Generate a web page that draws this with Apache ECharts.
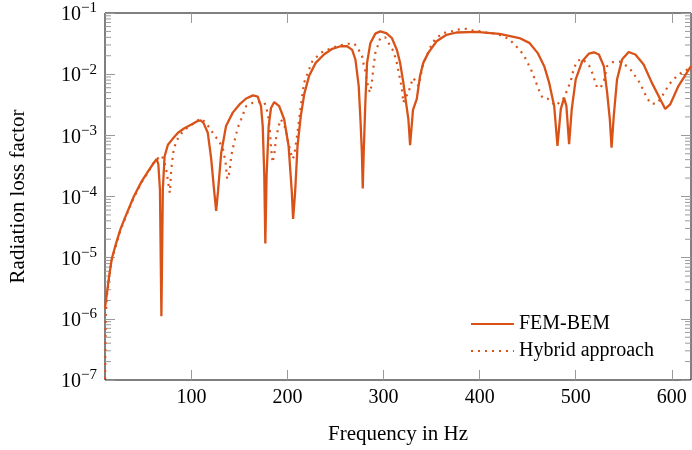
<!DOCTYPE html>
<html>
<head>
<meta charset="utf-8">
<script src="https://cdn.jsdelivr.net/npm/echarts@6/dist/echarts.min.js"></script>
<style>
html,body{margin:0;padding:0;background:#fff;}
#chart{width:692px;height:450px;}
</style>
</head>
<body>
<div id="chart"></div>
<script>
// ---- data ----
const femFreq = [10,12,14,17,21,26,32,40,48,55,60,63.8,65.5,67.2,68.7,70.2,72,75.5,80,86,93,100,106,109.5,112.5,117,120.5,123.5,125.7,127.6,131,136,143,150,157,164,169,172.4,174.2,175.8,176.9,178.2,180.4,182.8,186.2,191.3,196.5,201.1,204.5,205.8,207.9,210.4,213.8,217.5,222.4,229.3,237.9,246.6,255.2,262.1,267.3,270.7,274.1,275.9,277.4,278.3,279.3,281,282.8,286.2,291.4,296.5,302.8,308.6,313.8,317.2,320.6,323.4,325.8,327.6,330.6,334.5,337.9,341.3,346.5,355.2,365.5,375.9,396.6,420.7,441.4,451.7,460.3,467.2,472.4,477.6,481,484.5,487.9,490.3,493.1,495.9,500,506.8,513.8,518.9,524.1,529.3,532.7,535.5,537.3,539.6,543,548.2,555.1,562.1,570.7,579.3,588,593.2,598.3,606.9,620];
const femVal = [1.5e-6,2.6e-6,4.6e-6,9.5e-6,1.6e-5,2.9e-5,5.0e-5,1.0e-4,1.75e-4,2.6e-4,3.4e-4,4.1e-4,3.4e-4,1.3e-4,1.1e-6,1.3e-4,4.5e-4,7.0e-4,8.6e-4,1.1e-3,1.32e-3,1.5e-3,1.7e-3,1.76e-3,1.6e-3,1.1e-3,4.2e-4,1.3e-4,5.8e-5,1.2e-4,5.2e-4,1.42e-3,2.35e-3,3.2e-3,4.0e-3,4.5e-3,4.3e-3,3.0e-3,1.4e-3,2.2e-4,1.7e-5,2.2e-4,1.42e-3,2.8e-3,3.5e-3,3.0e-3,1.83e-3,6.7e-4,1.17e-4,4.3e-5,1.17e-4,6.7e-4,2.07e-3,4.8e-3,9.3e-3,1.53e-2,2.1e-2,2.6e-2,2.86e-2,2.86e-2,2.5e-2,1.73e-2,6.4e-3,1.83e-3,5.2e-4,1.35e-4,5.2e-4,3.4e-3,1.53e-2,3.2e-2,4.6e-2,5.0e-2,4.7e-2,3.9e-2,2.5e-2,1.53e-2,7.2e-3,3.4e-3,1.83e-3,6.9e-4,2.6e-3,3.9e-3,9.3e-3,1.53e-2,2.23e-2,3.45e-2,4.4e-2,4.8e-2,4.9e-2,4.55e-2,3.9e-2,3.25e-2,2.23e-2,1.35e-2,7.2e-3,3.0e-3,6.7e-4,2.7e-3,4.1e-3,3.0e-3,7.2e-4,2.7e-3,8.2e-3,1.63e-2,2.17e-2,2.28e-2,2.1e-2,1.35e-2,5.0e-3,1.83e-3,6.3e-4,2.07e-3,8.2e-3,1.73e-2,2.3e-2,2.1e-2,1.44e-2,7.2e-3,3.9e-3,2.7e-3,3.2e-3,6.4e-3,1.35e-2];

const hybFreq = [10,10.6,12,14,17,21,26,32,40,48,55,60.3,65,69,71.5,74,76,77.5,79,81,84,90,96,103,109.3,114.8,119.7,124.1,128.7,132.8,135.5,137.2,139.6,141.4,144.8,148.3,151.7,156.9,163.8,170.7,175.8,178.3,180.4,181.7,182.8,184.5,186.2,187.9,190.7,193.1,194.9,198.3,200,203.4,205.2,206.9,210.4,213.8,217.2,222.4,225.9,234.5,241.4,248.2,255.2,262.1,269.6,274.1,277.6,279.3,281,282.8,284.4,286.2,287.9,289.6,291.4,294.8,296.5,301.7,303.4,310.3,313.8,317.2,318.9,320.6,322.4,325.8,327.6,331,332.7,336.2,337.9,341.3,344.8,348.3,353.4,362,370.7,377.5,386.2,393.1,401.7,408.6,417.3,424.1,431,436.2,442.1,446.5,450,453.5,456.9,462.1,465.5,470.6,479.3,487.9,491.3,494.8,498.2,501.7,506.5,513.8,517.2,520,522.4,525.9,529.3,532.7,538.6,545.8,553.4,558.6,562.7,567.3,570.7,574.1,578.2,584.4,589,593.1,597.3,602.7,608.6,614.4,620];
const hybVal = [8e-8,1.0e-6,2.4e-6,4.2e-6,9e-6,1.5e-5,2.8e-5,4.8e-5,9.6e-5,1.7e-4,2.5e-4,3.5e-4,4.2e-4,4.7e-4,3.8e-4,2.6e-4,1.6e-4,1.15e-4,2.8e-4,5.2e-4,8e-4,1.1e-3,1.35e-3,1.6e-3,1.88e-3,1.62e-3,1.26e-3,9.8e-4,8.1e-4,6.0e-4,3.6e-4,1.93e-4,2.5e-4,4.6e-4,8.1e-4,1.34e-3,1.83e-3,3.0e-3,3.4e-3,3.5e-3,3.5e-3,2.7e-3,1.83e-3,1.18e-3,6.3e-4,3.6e-4,4.9e-4,8.6e-4,1.42e-3,1.83e-3,1.95e-3,1.26e-3,8.6e-4,5.2e-4,4.1e-4,4.6e-4,1.11e-3,3.0e-3,7.2e-3,1.19e-2,1.63e-2,2.23e-2,2.5e-2,2.75e-2,2.97e-2,3.13e-2,3.16e-2,2.5e-2,1.96e-2,1.44e-2,1.12e-2,7.7e-3,5.6e-3,5.0e-3,7.7e-3,1.35e-2,2.23e-2,3.2e-2,3.9e-2,4.0e-2,3.9e-2,2.37e-2,1.53e-2,8.2e-3,6.0e-3,3.4e-3,4.3e-3,4.7e-3,6.4e-3,8.7e-3,9.3e-3,6.4e-3,8.2e-3,1.53e-2,1.96e-2,2.7e-2,3.7e-2,4.7e-2,5.0e-2,5.35e-2,5.5e-2,5.15e-2,5.0e-2,4.7e-2,4.6e-2,4.2e-2,3.7e-2,3.05e-2,2.46e-2,1.96e-2,1.53e-2,1.19e-2,8.7e-3,5.3e-3,4.1e-3,4.0e-3,3.05e-3,4.1e-3,5.6e-3,7.7e-3,1.27e-2,1.63e-2,1.8e-2,1.39e-2,1.05e-2,7.7e-3,6.0e-3,6.0e-3,7.7e-3,1.35e-2,1.57e-2,1.6e-2,1.35e-2,1.12e-2,8.9e-3,7.0e-3,5.3e-3,4.1e-3,3.3e-3,3.3e-3,4.1e-3,5.3e-3,6.8e-3,8.5e-3,1.02e-2,1.16e-2,1.25e-2];

const xTicks = [100,200,300,400,500,600];
const yTicks = [1e-7,1e-6,1e-5,1e-4,1e-3,1e-2,1e-1];
const minorMult = [2,3,4,5,6,7,8,9];
const seriesNames = ['FEM-BEM','Hybrid approach'];

// ---- chart ----
const X_MIN = 10, X_MAX = 620, Y_MIN = 1e-7, Y_MAX = 1e-1;
const COLOR = '#d95319';
const FONT = 'Liberation Serif';
const TICKC = '#9a9a9a';

const minorTicks = [];
for (let k = 0; k < yTicks.length - 1; k++) {
  minorMult.forEach(m => minorTicks.push([X_MIN, yTicks[k] * m]));
}

const chart = echarts.init(document.getElementById('chart'), null, {renderer: 'canvas'});
const yLabel = v => {
  const e = Math.round(Math.log10(v));
  return '{b|10}{s|\u2212' + Math.abs(e) + '}';
};

const option = {
  animation: false,
  backgroundColor: '#fff',
  grid: {left: 103, right: 1, top: 13, bottom: 68, show: true, borderColor: '#000', borderWidth: 1, backgroundColor: 'transparent'},
  legend: {
    data: seriesNames,
    orient: 'vertical',
    left: 470, top: 314,
    padding: 0,
    itemWidth: 43, itemHeight: 14, itemGap: 7,
    itemStyle: {opacity: 0, borderWidth: 0},
    textStyle: {fontFamily: FONT, fontSize: 20, color: '#000'}
  },
  xAxis: [{
    type: 'value', min: X_MIN, max: X_MAX,
    position: 'bottom',
    name: 'Frequency in Hz', nameLocation: 'middle', nameGap: 44,
    nameTextStyle: {fontFamily: FONT, fontSize: 21, color: '#000'},
    axisLine: {show: false},
    splitLine: {show: false},
    axisTick: {show: true, inside: true, length: 10, lineStyle: {color: TICKC}, customValues: xTicks},
    axisLabel: {fontFamily: FONT, fontSize: 20, color: '#000', margin: 8, customValues: xTicks}
  }, {
    type: 'value', min: X_MIN, max: X_MAX,
    position: 'top',
    axisLine: {show: false},
    splitLine: {show: false},
    axisTick: {show: true, inside: true, length: 10, lineStyle: {color: TICKC}, customValues: xTicks},
    axisLabel: {show: false}
  }],
  yAxis: [{
    type: 'log', logBase: 10, min: Y_MIN, max: Y_MAX,
    position: 'left',
    name: 'Radiation loss factor', nameLocation: 'middle', nameGap: 76,
    nameTextStyle: {fontFamily: FONT, fontSize: 21, color: '#000'},
    axisLine: {show: false},
    splitLine: {show: false},
    axisTick: {show: true, inside: true, length: 10, lineStyle: {color: TICKC}, customValues: yTicks},
    axisLabel: {
      margin: 8, customValues: yTicks,
      formatter: yLabel,
      rich: {
        b: {fontFamily: FONT, fontSize: 20, color: '#000', verticalAlign: 'bottom', lineHeight: 24},
        s: {fontFamily: FONT, fontSize: 15, color: '#000', verticalAlign: 'top', lineHeight: 15}
      }
    }
  }, {
    type: 'log', logBase: 10, min: Y_MIN, max: Y_MAX,
    position: 'right',
    axisLine: {show: false},
    splitLine: {show: false},
    axisTick: {show: true, inside: true, length: 10, lineStyle: {color: TICKC}, customValues: yTicks},
    axisLabel: {show: false}
  }],
  series: [{
    name: seriesNames[0], type: 'line',
    data: femFreq.map((f, i) => [f, femVal[i]]),
    showSymbol: false, symbol: 'none',
    lineStyle: {color: COLOR, width: 2.3},
    itemStyle: {color: COLOR},
    clip: true, z: 3
  }, {
    name: seriesNames[1], type: 'line',
    data: hybFreq.map((f, i) => [f, hybVal[i]]),
    showSymbol: false, symbol: 'none',
    lineStyle: {color: COLOR, width: 2.2, type: [2, 5], cap: 'butt'},
    itemStyle: {color: COLOR},
    clip: true, z: 2
  }, {
    name: 'minor', type: 'custom', silent: true,
    data: minorTicks,
    clip: false,
    renderItem: (params, api) => {
      const v = api.value(1);
      const pL = api.coord([X_MIN, v]);
      const pR = api.coord([X_MAX, v]);
      return {type: 'group', children: [
        {type: 'line', shape: {x1: pL[0], y1: pL[1], x2: pL[0] + 6, y2: pL[1]}, style: {stroke: TICKC, lineWidth: 1}},
        {type: 'line', shape: {x1: pR[0], y1: pR[1], x2: pR[0] - 6, y2: pR[1]}, style: {stroke: TICKC, lineWidth: 1}}
      ]};
    },
    z: 1
  }]
};
chart.setOption(option);
</script>
</body>
</html>
